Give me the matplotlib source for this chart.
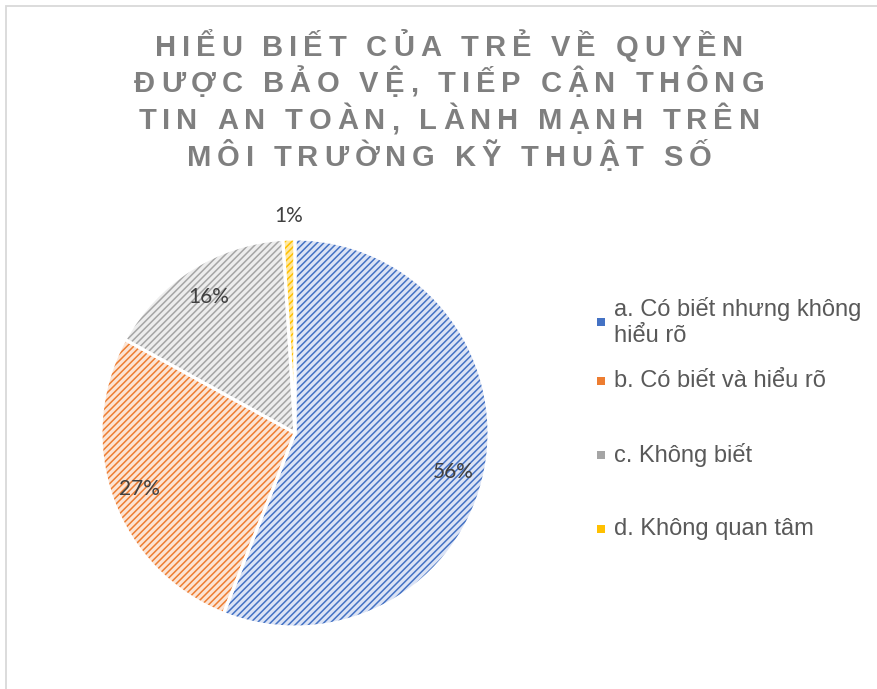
import unicodedata
import matplotlib
matplotlib.use("Agg")
import matplotlib.pyplot as plt
from matplotlib.patches import Rectangle
from matplotlib import font_manager
from matplotlib.ft2font import FT2Font
import numpy as np

# data
categories = ["a. Có biết nhưng không\nhiểu rõ", "b. Có biết và hiểu rõ",
              "c. Không biết", "d. Không quan tâm"]
values = [56, 27, 16, 1]
title_lines = ["HIỂU BIẾT CỦA TRẺ VỀ QUYỀN",
               "ĐƯỢC BẢO VỆ, TIẾP CẬN THÔNG",
               "TIN AN TOÀN, LÀNH MẠNH TRÊN",
               "MÔI TRƯỜNG KỸ THUẬT SỐ"]

main_colors = ["#4472c4", "#ed7d31", "#a5a5a5", "#ffc000"]
light_colors = ["#dbe3f5", "#fce4d4", "#ededed", "#ffe8a0"]

W, H = 877, 689
fig = plt.figure(figsize=(W / 100, H / 100), dpi=100)
fig.patch.set_facecolor("white")

def fx(px):
    return px / W

def fy(py):
    return 1 - py / H

# chart border (top and left edges visible)
fig.add_artist(Rectangle((fx(5.5), -0.1), 1.2, fy(5.5) + 0.1, transform=fig.transFigure,
                         fill=False, edgecolor="#d9d9d9", linewidth=1.3))

# pie axes, centre (295, 433), radius 194 px
r = 194
side = 2.5 * r
ax = fig.add_axes([fx(295 - side / 2), fy(433 + side / 2), side / W, side / H])
plt.rcParams["hatch.linewidth"] = 1.1

wedges, _ = ax.pie(values, colors=light_colors, startangle=90, counterclock=False,
                   wedgeprops=dict(hatch="/////", linewidth=0))
for w, c in zip(wedges, main_colors):
    w.set_edgecolor(c)
    w.set_linewidth(0)

# white separators
ax.pie(values, colors=["none"] * 4, startangle=90, counterclock=False,
       wedgeprops=dict(edgecolor="white", linewidth=2.2, fill=False))

# data labels
cum = 0
total = sum(values)
dists = [0.84, 0.85, 0.83, 1.12]
for v, d in zip(values, dists):
    mid = 90 - (cum + v / 2) / total * 360
    cum += v
    ang = np.radians(mid - 3 if v > 50 else mid)
    ax.text(d * np.cos(ang), d * np.sin(ang), f"{v}%",
            ha="center", va="center", fontsize=15, color="#404040", family="Lato")

# title with letter spacing
tsize = 21
fpath = font_manager.findfont(font_manager.FontProperties(family="Liberation Sans", weight="bold"))
ft = FT2Font(fpath)
ft.set_size(tsize, 100)

def advances(s):
    out = []
    for ch in s:
        g = ft.load_char(ord(ch))
        out.append(g.linearHoriAdvance / 65536)
    return out

lines = [unicodedata.normalize("NFC", t) for t in title_lines]
adv0 = advances(lines[0])
track = (586 - sum(adv0[:-1]) - adv0[-1] * 0.9) / (len(lines[0]) - 1)
baselines = [55.5, 92, 129, 166]
for line, yb in zip(lines, baselines):
    adv = advances(line)
    width = sum(adv) + track * (len(line) - 1)
    x = 449 - width / 2
    for ch, a in zip(line, adv):
        if ch != " ":
            fig.text(fx(x), fy(yb), ch, ha="left", va="baseline", fontsize=tsize,
                     fontweight="bold", color="#7f7f7f", family="Liberation Sans")
        x += a + track

# legend
leg_y = [322, 381, 455, 529]
for lab, c, y in zip(categories, main_colors, leg_y):
    fig.add_artist(Rectangle((fx(597), fy(y + 4)), 8 / W, 8 / H, transform=fig.transFigure,
                             facecolor=c, edgecolor="none"))
    fig.text(fx(614), fy(y), lab, ha="left", va="center", fontsize=17, color="#595959",
             family="Liberation Sans", linespacing=1.25)

fig.savefig("out.png", dpi=100, facecolor="white")
